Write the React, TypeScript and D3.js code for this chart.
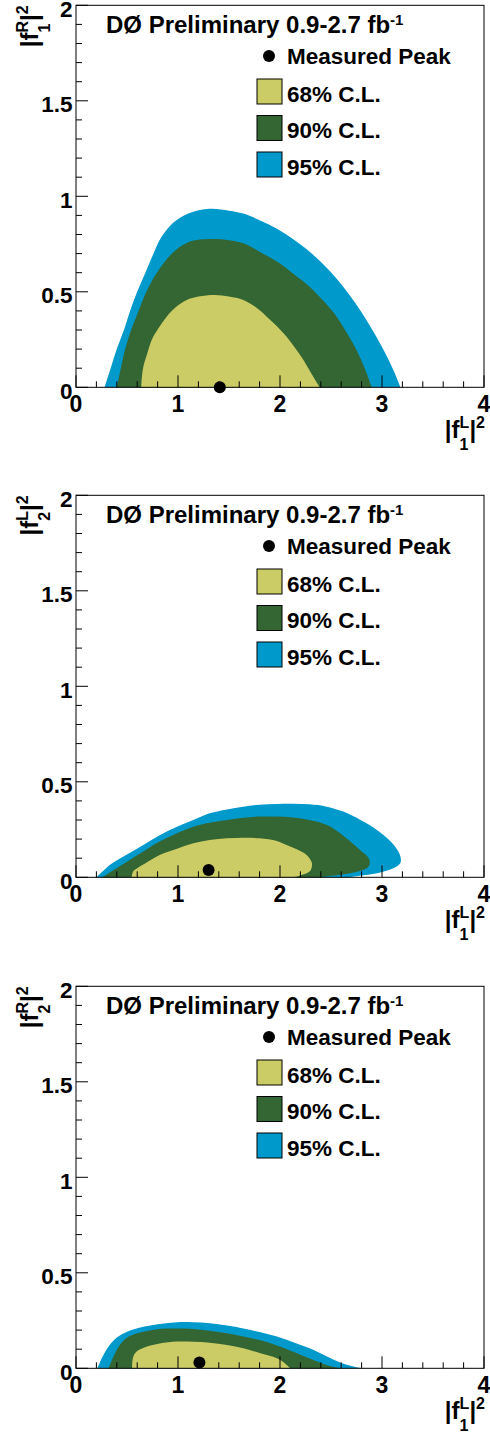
import React from 'react';
import * as d3 from 'd3';

const X_TICKS = [0, 1, 2, 3, 4];
const Y_TICKS = [0, 0.5, 1, 1.5, 2];
const Y_TICK_LABELS = ['0', '0.5', '1', '1.5', '2'];
const LEGEND_LABELS = ['68% C.L.', '90% C.L.', '95% C.L.'];
const CL_COLORS = ['#CCCC66', '#336633', '#0099CC'];
const Y_TITLE_SUP = ['R', 'L', 'R'];
const Y_TITLE_SUB = ['1', '2', '2'];

const P1_CL95 = [[0.28,0],[0.34,0.1],[0.40,0.2],[0.47,0.3],[0.53,0.4],[0.60,0.5],[0.68,0.6],[0.76,0.7],[0.83,0.78],[0.95,0.86],[1.10,0.91],[1.31,0.935],[1.50,0.925],[1.64,0.91],[1.80,0.875],[1.97,0.83],[2.13,0.775],[2.29,0.71],[2.46,0.625],[2.62,0.527],[2.74,0.44],[2.85,0.35],[2.96,0.25],[3.05,0.16],[3.12,0.08],[3.18,0]];
const P1_CL90 = [[0.40,0],[0.44,0.1],[0.48,0.195],[0.54,0.3],[0.61,0.396],[0.69,0.5],[0.79,0.597],[0.94,0.70],[1.10,0.76],[1.33,0.776],[1.50,0.77],[1.64,0.754],[1.80,0.71],[1.97,0.658],[2.13,0.595],[2.29,0.527],[2.43,0.45],[2.555,0.37],[2.66,0.28],[2.75,0.195],[2.83,0.1],[2.90,0]];
const P1_CL68 = [[0.64,0],[0.645,0.05],[0.66,0.108],[0.70,0.18],[0.742,0.248],[0.81,0.31],[0.889,0.37],[0.98,0.42],[1.085,0.457],[1.20,0.475],[1.36,0.483],[1.50,0.475],[1.64,0.457],[1.76,0.42],[1.87,0.37],[1.97,0.32],[2.065,0.265],[2.15,0.205],[2.23,0.143],[2.31,0.07],[2.39,0]];

const P2_CL95 = [[0.20,0],[0.26,0.03],[0.33,0.065],[0.50,0.12],[0.66,0.169],[0.82,0.22],[0.99,0.265],[1.15,0.30],[1.31,0.335],[1.48,0.355],[1.64,0.37],[1.80,0.38],[1.97,0.384],[2.13,0.385],[2.29,0.382],[2.46,0.37],[2.62,0.344],[2.79,0.30],[2.95,0.248],[3.06,0.2],[3.14,0.152],[3.18,0.11],[3.18,0.075],[3.11,0.047],[2.95,0.021],[2.78,0.008],[2.67,0]];
const P2_CL90 = [[0.26,0],[0.36,0.035],[0.50,0.082],[0.66,0.135],[0.82,0.187],[0.99,0.23],[1.15,0.265],[1.31,0.285],[1.48,0.30],[1.64,0.312],[1.80,0.318],[1.97,0.318],[2.13,0.313],[2.29,0.30],[2.46,0.274],[2.58,0.235],[2.69,0.187],[2.79,0.14],[2.87,0.1],[2.88,0.07],[2.85,0.047],[2.69,0.021],[2.46,0.005],[2.40,0]];
const P2_CL68 = [[0.546,0],[0.56,0.03],[0.60,0.047],[0.70,0.08],[0.82,0.117],[0.99,0.15],[1.15,0.178],[1.31,0.195],[1.48,0.204],[1.64,0.207],[1.80,0.204],[1.97,0.19],[2.065,0.169],[2.17,0.145],[2.26,0.117],[2.31,0.08],[2.31,0.05],[2.29,0.03],[2.20,0.01],[2.13,0]];

const P3_CL95 = [[0.21,0],[0.26,0.06],[0.33,0.122],[0.41,0.165],[0.50,0.192],[0.66,0.218],[0.82,0.232],[0.99,0.241],[1.15,0.241],[1.31,0.236],[1.48,0.224],[1.64,0.209],[1.80,0.19],[1.97,0.166],[2.13,0.137],[2.29,0.105],[2.45,0.065],[2.59,0.031],[2.70,0.012],[2.80,0]];
const P3_CL90 = [[0.32,0],[0.37,0.065],[0.43,0.122],[0.50,0.16],[0.60,0.183],[0.82,0.206],[0.99,0.208],[1.15,0.206],[1.31,0.197],[1.48,0.183],[1.64,0.167],[1.80,0.148],[1.97,0.12],[2.13,0.087],[2.26,0.058],[2.39,0.031],[2.49,0.012],[2.59,0]];
const P3_CL68 = [[0.55,0],[0.552,0.03],[0.562,0.061],[0.60,0.09],[0.69,0.113],[0.82,0.13],[0.99,0.14],[1.15,0.139],[1.31,0.134],[1.48,0.122],[1.64,0.105],[1.80,0.08],[1.97,0.052],[2.05,0.025],[2.10,0]];

const PEAKS = [[1.41, 0], [1.30, 0.038], [1.21, 0.03]];

const PANELS = [
  { contours: [P1_CL95, P1_CL90, P1_CL68], peak: PEAKS[0] },
  { contours: [P2_CL95, P2_CL90, P2_CL68], peak: PEAKS[1] },
  { contours: [P3_CL95, P3_CL90, P3_CL68], peak: PEAKS[2] },
];
const PANEL_OFFSETS = [0, 490, 981];

const FONT = '"Liberation Sans", Arial, Helvetica, sans-serif';
const LEFT = 76, RIGHT = 484, TOP = 5.3, BOTTOM = 387.3;

function Panel({ idx }: { idx: number }) {
  const off = PANEL_OFFSETS[idx];
  const p = PANELS[idx];
  const x = d3.scaleLinear().domain([0, 4]).range([LEFT, RIGHT]);
  const y = d3.scaleLinear().domain([0, 2]).range([BOTTOM + off, TOP + off]);
  const line = d3.line<number[]>().x(d => x(d[0])).y(d => y(d[1])).curve(d3.curveCatmullRom.alpha(0.5));
  const fillColors = [CL_COLORS[2], CL_COLORS[1], CL_COLORS[0]];
  const xMinor = d3.range(0, 4.001, 0.2);
  const yMinor = d3.range(0, 2.001, 0.1);
  const y0 = y(0);
  return (
    <g>
      {p.contours.map((c, i) => (
        <path key={i} d={line(c as number[][]) + 'Z'} fill={fillColors[i]} stroke="none" />
      ))}
      <circle cx={x(p.peak[0])} cy={y(p.peak[1])} r={6} fill="#000" />
      <rect x={LEFT} y={TOP + off} width={RIGHT - LEFT} height={BOTTOM - TOP} fill="none" stroke="#000" strokeWidth={1} />
      {xMinor.map((t, i) => {
        const major = Math.abs(t - Math.round(t)) < 1e-6;
        return <line key={'xt' + i} x1={x(t)} x2={x(t)} y1={y0} y2={y0 - (major ? 12 : 6)} stroke="#000" strokeWidth={1} />;
      })}
      {yMinor.map((t, i) => {
        const major = Math.abs(t * 2 - Math.round(t * 2)) < 1e-6;
        return <line key={'yt' + i} x1={LEFT} x2={LEFT + (major ? 12 : 6)} y1={y(t)} y2={y(t)} stroke="#000" strokeWidth={1} />;
      })}
      {X_TICKS.map((t, i) => (
        <text key={'xl' + i} x={x(t)} y={y0 + 24.4} textAnchor="middle" fontSize={23} fontWeight="bold" fontFamily={FONT}>{String(t)}</text>
      ))}
      {Y_TICKS.map((t, i) => (
        <text key={'yl' + i} x={72.5} y={y(t) + 11.5} textAnchor="end" fontSize={22.5} fontWeight="bold" fontFamily={FONT}>{Y_TICK_LABELS[i]}</text>
      ))}
      <text x={485} y={y0 + 51} textAnchor="end" fontSize={24} fontWeight="bold" fontFamily={FONT}>
        |f<tspan fontSize={16} dy={-10}>L</tspan><tspan fontSize={16} dx={-9.8} dy={21.7}>1</tspan><tspan dx={0.9} dy={-11.7}>|</tspan><tspan fontSize={16} dy={-10}>2</tspan>
      </text>
      <text transform={`translate(38,${TOP + off}) rotate(-90)`} textAnchor="end" fontSize={24} fontWeight="bold" fontFamily={FONT}>
        |f<tspan fontSize={16} dy={-10}>{Y_TITLE_SUP[idx]}</tspan><tspan fontSize={16} dx={Y_TITLE_SUP[idx] === 'R' ? -11.6 : -9.8} dy={21.7}>{Y_TITLE_SUB[idx]}</tspan><tspan dx={Y_TITLE_SUP[idx] === 'R' ? 2.7 : 0.9} dy={-11.7}>|</tspan><tspan fontSize={16} dy={-10}>2</tspan>
      </text>
      <text x={106} y={33 + off} fontSize={24} fontWeight="bold" fontFamily={FONT}>
        DØ Preliminary 0.9-2.7 fb<tspan fontSize={15} dy={-8}>-1</tspan>
      </text>
      <circle cx={269} cy={56 + off} r={6} fill="#000" />
      <text x={287} y={64 + off} fontSize={22.5} fontWeight="bold" fontFamily={FONT}>Measured Peak</text>
      {LEGEND_LABELS.map((lab, i) => (
        <g key={'lg' + i}>
          <rect x={257} y={79 + i * 36.5 + off} width={25} height={25} fill={CL_COLORS[i]} stroke="#000" strokeWidth={1} />
          <text x={287} y={101.7 + i * 36.5 + off} fontSize={22.5} fontWeight="bold" fontFamily={FONT}>{lab}</text>
        </g>
      ))}
    </g>
  );
}

export default function App() {
  return (
    <svg width={490} height={1434} style={{ position: 'absolute', left: 0, top: 0, display: 'block', background: '#fff' }}>
      <rect x={0} y={0} width={490} height={1434} fill="#fff" />
      {[0, 1, 2].map(i => <Panel key={i} idx={i} />)}
    </svg>
  );
}
